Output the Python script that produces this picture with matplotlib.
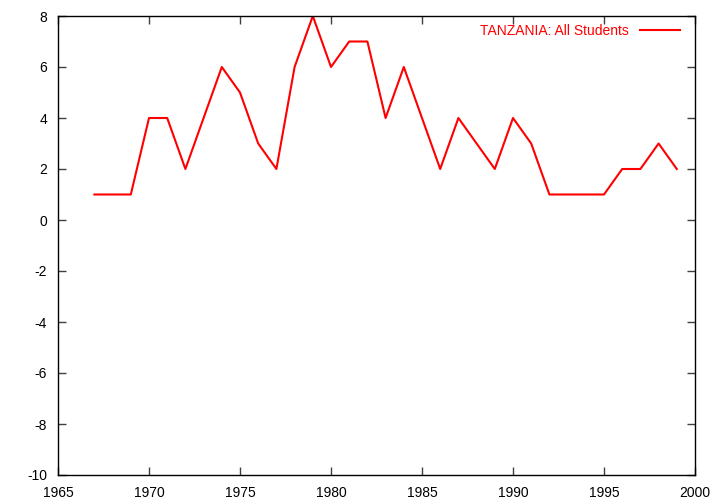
import matplotlib
matplotlib.use("Agg")
import matplotlib.pyplot as plt

years = list(range(1967, 2000))
values = [1, 1, 1, 4, 4, 2, 4, 6, 5, 3, 2, 6, 8, 6, 7, 7, 4, 6, 4, 2, 4, 3, 2, 4, 3, 1, 1, 1, 1, 2, 2, 3, 2]
series_label = "TANZANIA: All Students"
xticks = [1965, 1970, 1975, 1980, 1985, 1990, 1995, 2000]
yticks = [-10, -8, -6, -4, -2, 0, 2, 4, 6, 8]

plt.rcParams['font.family'] = ['Liberation Sans', 'DejaVu Sans']
plt.rcParams['axes.unicode_minus'] = False
fig = plt.figure(figsize=(7.2, 5.04), dpi=100)
ax = fig.add_axes([58/720, 29/504, 637/720, 459/504])
ax.plot(years, values, color='#ff0000', lw=1.5, label=series_label)
ax.set_xlim(1965, 2000)
ax.set_ylim(-10, 8)
ax.set_xticks(xticks)
ax.set_yticks(yticks)
ax.tick_params(direction='in', top=True, right=True, length=6, width=1, labelsize=10, color='#404040')
ax.tick_params(axis='y', pad=8)
ax.tick_params(axis='x', pad=8)
for s in ax.spines.values():
    s.set_linewidth(1)
leg = ax.legend(loc='upper right', frameon=False, fontsize=10, markerfirst=False,
                handlelength=2.9, handletextpad=0.8, borderaxespad=0.2,
                bbox_to_anchor=(0.99, 1.0))
for t in leg.get_texts():
    t.set_color('#ff0000')
fig.savefig('out.png', dpi=100)
